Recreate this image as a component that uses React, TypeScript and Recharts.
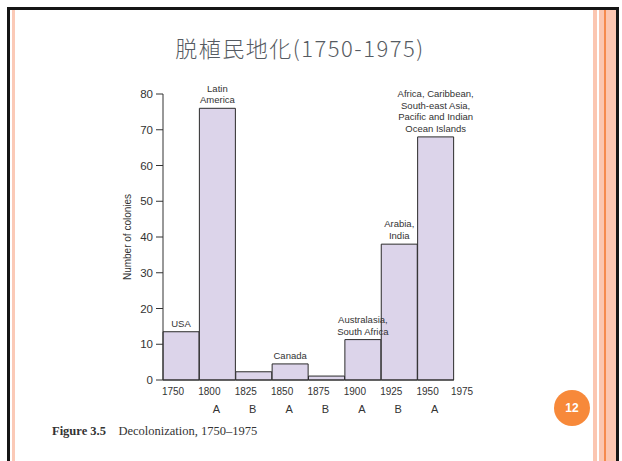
import React from 'react';
import { BarChart, Bar, XAxis, YAxis, LabelList } from 'recharts';

const periods = ['1750', '1800', '1825', '1850', '1875', '1900', '1925', '1950'];
const colonies = [13.5, 76, 2.3, 4.5, 1.1, 11.3, 38, 68];
const regionLabels = [
  ['USA'],
  ['Latin', 'America'],
  [],
  ['Canada'],
  [],
  ['Australasia,', 'South Africa'],
  ['Arabia,', 'India'],
  ['Africa, Caribbean,', 'South-east Asia,', 'Pacific and Indian', 'Ocean Islands'],
];
const waveLabels = ['', 'A', 'B', 'A', 'B', 'A', 'B', 'A'];
const lastYear = '1975';
const yTicks = [0, 10, 20, 30, 40, 50, 60, 70, 80];

const data = periods.map((p, i) => ({ period: p, colonies: colonies[i] }));

const W = 622;
const H = 461;
const PLOT_LEFT = 163;
const PLOT_RIGHT = 454;
const BAND = (PLOT_RIGHT - PLOT_LEFT) / periods.length;
const FONT = '"Liberation Sans", Arial, sans-serif';

const YearTick = ({ x, y, index }: any) => {
  const left = x - BAND / 2;
  return (
    <g fontFamily={FONT} fill="#333">
      <text x={left + 10} y={y} dy={15} textAnchor="middle" fontSize={10}>
        {periods[index]}
      </text>
      {waveLabels[index] && (
        <text x={left + 17} y={y} dy={33} textAnchor="middle" fontSize={11}>
          {waveLabels[index]}
        </text>
      )}
      {index === periods.length - 1 && (
        <text x={x + BAND / 2 + 8} y={y} dy={15} textAnchor="middle" fontSize={10}>
          {lastYear}
        </text>
      )}
    </g>
  );
};

const RegionLabel = ({ x, y, width, index }: any) => {
  const lines = regionLabels[index] || [];
  const n = lines.length;
  return (
    <text x={x + width / 2} textAnchor="middle" fontSize={9.5} fontFamily={FONT} fill="#333">
      {lines.map((l, i) => (
        <tspan key={i} x={x + width / 2} y={y - 5 - (n - 1 - i) * 11.7}>
          {l}
        </tspan>
      ))}
    </text>
  );
};

export default function App() {
  return (
    <div style={{ position: 'absolute', left: 0, top: 0, width: W, height: H, background: '#fff', overflow: 'hidden' }}>
      {/* slide frame */}
      <div style={{ position: 'absolute', left: 7, top: 7, width: 606, height: 470, border: '3px solid #151515' }} />
      <div style={{ position: 'absolute', left: 12, top: 10, width: 3, height: H, background: '#fbcab7' }} />
      <div style={{ position: 'absolute', left: 593, top: 10, width: 4, height: H, background: '#fbc6b1' }} />
      <div style={{ position: 'absolute', left: 599, top: 10, width: 17, height: H, background: '#fbc6b1' }} />
      <div style={{ position: 'absolute', left: 604, top: 10, width: 2, height: H, background: '#f58a4e' }} />

      <div
        style={{
          position: 'absolute',
          left: 0,
          width: 600,
          top: 31,
          textAlign: 'center',
          fontFamily: '"Noto Sans CJK JP", sans-serif',
          fontWeight: 300,
          fontSize: 22,
          letterSpacing: 1.5,
          color: '#565b62',
        }}
      >
        脱植民地化(1750-1975)
      </div>

      <div style={{ position: 'absolute', left: 0, top: 0 }}>
        <BarChart
          width={W}
          height={H}
          data={data}
          barCategoryGap={0}
          margin={{ top: 94, right: W - PLOT_RIGHT, bottom: 41, left: 103 }}
        >
          <XAxis
            dataKey="period"
            height={40}
            tickLine={false}
            tickSize={0}
            tickMargin={0}
            interval={0}
            stroke="#333"
            tick={<YearTick />}
          />
          <YAxis
            width={60}
            domain={[0, 80]}
            ticks={yTicks}
            tickSize={7}
            tickMargin={3}
            stroke="#333"
            tick={{ fill: '#333', fontSize: 11.5, fontFamily: FONT }}
            label={{
              value: 'Number of colonies',
              angle: -90,
              position: 'insideLeft',
              offset: 24,
              style: { textAnchor: 'middle', fill: '#333', fontSize: 10, fontFamily: FONT },
            }}
          />
          <Bar dataKey="colonies" fill="#dcd4ea" stroke="#2b2b2b" strokeWidth={1} isAnimationActive={false}>
            <LabelList dataKey="colonies" content={<RegionLabel />} />
          </Bar>
        </BarChart>
      </div>

      <div
        style={{
          position: 'absolute',
          left: 52,
          top: 424,
          fontFamily: '"Liberation Serif", "Times New Roman", serif',
          fontSize: 12.5,
          color: '#333',
          whiteSpace: 'pre',
        }}
      >
        <b>Figure 3.5</b>
        {'    Decolonization, 1750–1975'}
      </div>

      <div
        style={{
          position: 'absolute',
          left: 554,
          top: 390,
          width: 36,
          height: 36,
          borderRadius: '50%',
          background: '#f7893a',
          color: '#fff',
          fontFamily: FONT,
          fontWeight: 'bold',
          fontSize: 12,
          display: 'flex',
          alignItems: 'center',
          justifyContent: 'center',
        }}
      >
        12
      </div>
    </div>
  );
}
